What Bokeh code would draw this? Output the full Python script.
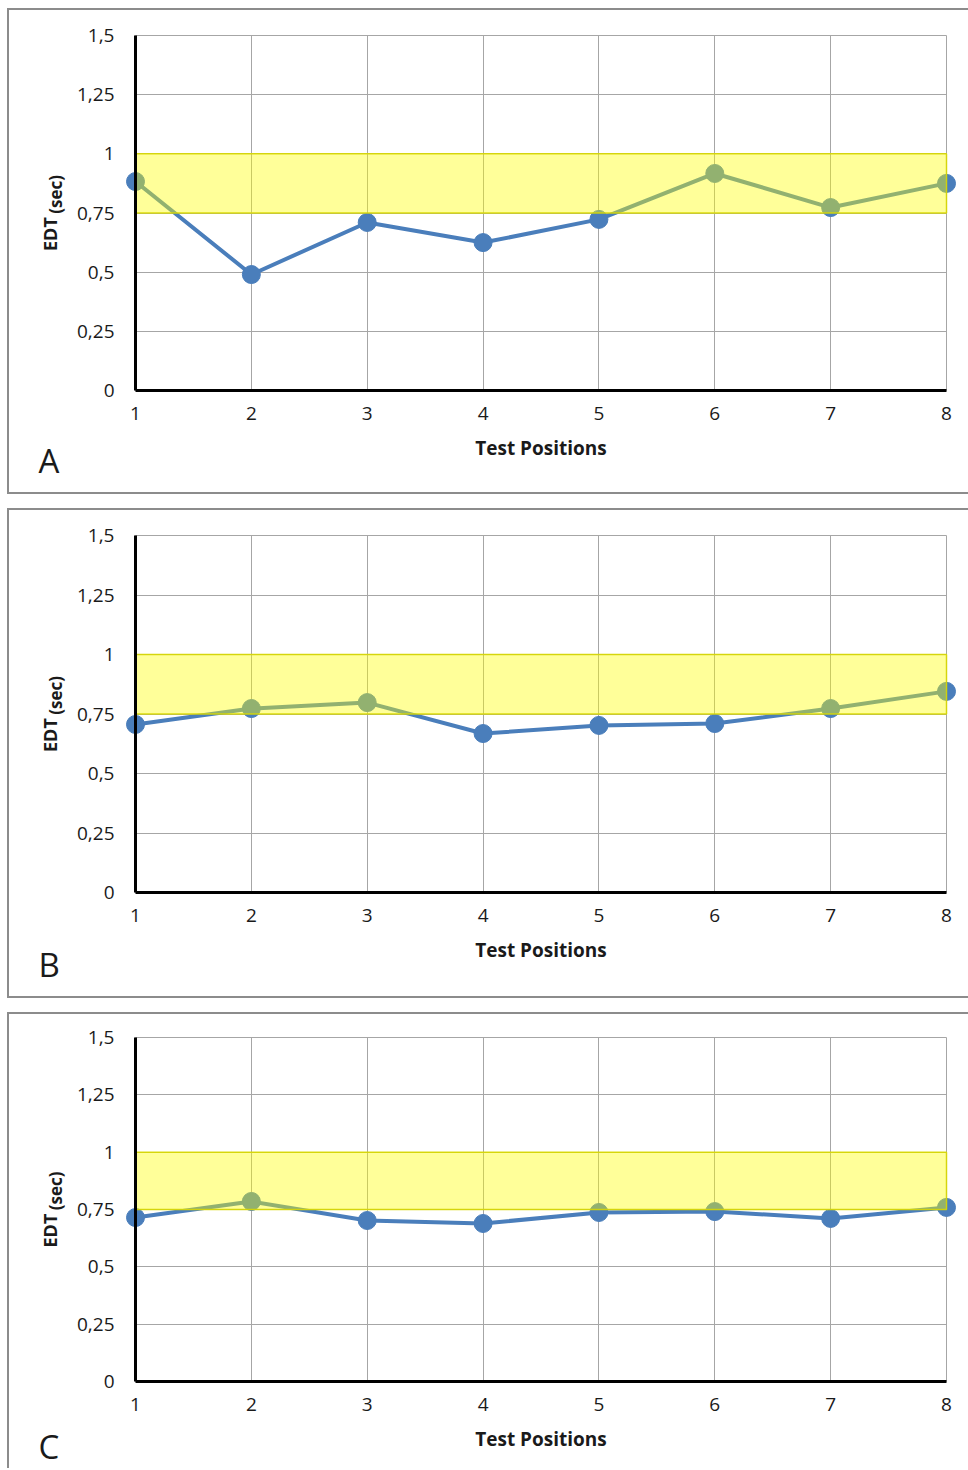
from math import pi
from bokeh.plotting import figure
from bokeh.models import Range1d, FixedTicker, Label
from bokeh.layouts import column
from bokeh.embed import file_html
from bokeh.resources import INLINE

# ---------------- data ----------------
positions = [1, 2, 3, 4, 5, 6, 7, 8]
x_tick_labels = ["1", "2", "3", "4", "5", "6", "7", "8"]
edt_a = [0.883, 0.490, 0.710, 0.625, 0.723, 0.917, 0.773, 0.875]
edt_b = [0.706, 0.773, 0.798, 0.668, 0.702, 0.710, 0.773, 0.845]
edt_c = [0.715, 0.785, 0.702, 0.689, 0.737, 0.741, 0.711, 0.759]
y_ticks = [0, 0.25, 0.5, 0.75, 1.0, 1.25, 1.5]
y_tick_labels = ["0", "0,25", "0,5", "0,75", "1", "1,25", "1,5"]
band_low = [0.75]
band_high = [1.0]
panel_letters = ["A", "B", "C"]
x_title = "Test Positions"
y_title_main = "EDT"
y_title_unit = "(sec)"

# ---------------- style / layout ----------------
FONT = "Open Sans"
BLUE = "#4a7ebb"
GRID = "#a6a6a6"
TXT = "#1a1a1a"
BOX = "#8c8c8c"
W = 961
# per panel: figure height, pixel rows of top / bottom y tick, letter centre below axis, bottom edge drawn
panels = [
    (486, 27, 382, 70, True),
    (490, 27, 384, 72, True),
    (456, 25, 369, 65, False),
]
AX_LEFT_PX, AX_RIGHT_PX = 128, 939
series = [edt_a, edt_b, edt_c]


def make_panel(vals, letter, h, top_px, bot_px, letter_off, bottom_edge):
    ux = (AX_RIGHT_PX - AX_LEFT_PX) / (positions[-1] - positions[0])
    uy = (bot_px - top_px) / (y_ticks[-1] - y_ticks[0])
    x0 = positions[0] - AX_LEFT_PX / ux
    x1 = positions[-1] + (W - AX_RIGHT_PX) / ux
    y0 = y_ticks[0] - (h - bot_px) / uy
    y1 = y_ticks[-1] + top_px / uy

    shadow = f"inset 2px 0 0 0 {BOX}, inset 0 2px 0 0 {BOX}"
    if bottom_edge:
        shadow += f", inset 0 -2px 0 0 {BOX}"
    p = figure(width=W, height=h, output_backend="svg", toolbar_location=None,
               x_range=Range1d(x0, x1), y_range=Range1d(y0, y1),
               min_border=0, border_fill_color=None, background_fill_color=None,
               outline_line_color=None,
               styles={"box-shadow": shadow})

    # axes drawn at the data origin
    p.xaxis.ticker = FixedTicker(ticks=positions)
    p.xaxis.major_label_overrides = {v: s for v, s in zip(positions, x_tick_labels)}
    p.xaxis.bounds = (positions[0], positions[-1])
    p.xaxis.fixed_location = y_ticks[0]
    p.yaxis.ticker = FixedTicker(ticks=y_ticks)
    p.yaxis.major_label_overrides = {v: s for v, s in zip(y_ticks, y_tick_labels)}
    p.yaxis.bounds = (y_ticks[0], y_ticks[-1])
    p.yaxis.fixed_location = positions[0]
    for ax in (p.xaxis, p.yaxis):
        ax.axis_line_color = "black"
        ax.axis_line_width = 3
        ax.major_tick_line_color = None
        ax.minor_tick_line_color = None
        ax.major_tick_out = 0
        ax.major_tick_in = 0
        ax.major_label_text_font = FONT
        ax.major_label_text_font_size = "19px"
        ax.major_label_text_color = TXT
    p.yaxis.major_label_standoff = 21
    p.xaxis.major_label_standoff = 16
    p.xaxis.axis_label = x_title
    p.xaxis.axis_label_text_font = FONT
    p.xaxis.axis_label_text_font_style = "bold"
    p.xaxis.axis_label_text_font_size = "19px"
    p.xaxis.axis_label_text_color = TXT
    p.xaxis.axis_label_standoff = 12

    # grid
    p.xgrid.ticker = FixedTicker(ticks=positions)
    p.ygrid.ticker = FixedTicker(ticks=y_ticks)
    p.grid.grid_line_color = GRID
    p.grid.grid_line_width = 1
    p.xgrid.cross_bounds = (y_ticks[0], y_ticks[-1])
    p.ygrid.cross_bounds = (positions[0], positions[-1])

    # series
    p.line(positions, vals, line_color=BLUE, line_width=4)
    p.scatter(positions, vals, size=18, fill_color=BLUE, line_color=BLUE)

    # target band, semi-transparent, on top of the series
    p.quad(left=[positions[0]], right=[positions[-1]], bottom=band_low, top=band_high,
           fill_color="#ffff00", fill_alpha=0.4, line_color="#d8d800", line_alpha=0.9,
           line_width=1.5)

    # y title (rotated, two sizes)
    yc = (y_ticks[0] + y_ticks[-1]) / 2
    p.add_layout(Label(x=positions[0] - 86 / ux, y=yc - 38 / uy, text=y_title_main,
                       angle=pi / 2, text_align="left", text_baseline="middle",
                       text_font=FONT, text_font_style="bold",
                       text_font_size="18px", text_color=TXT))
    p.add_layout(Label(x=positions[0] - 80 / ux, y=yc + 38 / uy, text=y_title_unit,
                       angle=pi / 2, text_align="right", text_baseline="middle",
                       text_font=FONT, text_font_style="bold",
                       text_font_size="17px", text_color=TXT))
    # panel letter
    p.add_layout(Label(x=positions[0] - 97 / ux, y=y_ticks[0] - letter_off / uy, text=letter,
                       text_align="left", text_baseline="middle",
                       text_font=FONT, text_font_size="33px", text_color=TXT))
    return p


figs = [make_panel(v, l, *g) for v, l, g in zip(series, panel_letters, panels)]
layout = column(*figs, spacing=14, margin=(8, 0, 0, 7))

open("out.html", "w").write(file_html(layout, INLINE))
